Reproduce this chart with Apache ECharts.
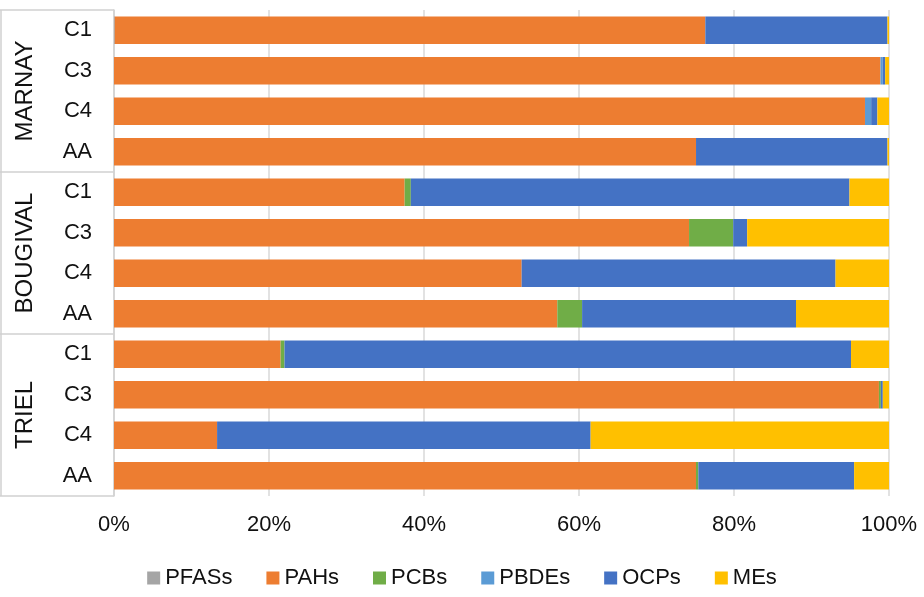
<!DOCTYPE html>
<html>
<head>
<meta charset="utf-8">
<script src="https://cdn.jsdelivr.net/npm/echarts@6/dist/echarts.min.js"></script>
<style>
  html, body { margin: 0; padding: 0; background: #fff; }
  #main { width: 924px; height: 597px; }
</style>
</head>
<body>
<div id="main"></div>
<script>
// categories, top to bottom
var sites = ['MARNAY', 'BOUGIVAL', 'TRIEL'];
var samples = ['C1', 'C3', 'C4', 'AA'];
var names = ['PFASs', 'PAHs', 'PCBs', 'PBDEs', 'OCPs', 'MEs'];
var colors = ['#A5A5A5', '#ED7D31', '#70AD47', '#5B9BD5', '#4472C4', '#FFC000'];

// percentages, order: MARNAY C1..AA, BOUGIVAL C1..AA, TRIEL C1..AA
var pfas = [0.1, 0, 0, 0, 0, 0, 0, 0, 0, 0, 0, 0];
var pahs = [76.2, 98.9, 96.9, 75.1, 37.5, 74.2, 52.6, 57.2, 21.5, 98.7, 13.3, 75.1];
var pcbs = [0, 0, 0, 0, 0.8, 5.7, 0, 3.2, 0.5, 0.25, 0, 0.3];
var pbdes = [0, 0.3, 0.8, 0, 0, 0, 0, 0, 0, 0, 0, 0];
var ocps = [23.5, 0.3, 0.8, 24.7, 56.6, 1.8, 40.5, 27.6, 73.1, 0.25, 48.2, 20.1];
var mes = [0.2, 0.5, 1.5, 0.2, 5.1, 18.3, 6.9, 12.0, 4.9, 0.8, 38.5, 4.5];

var values = [pfas, pahs, pcbs, pbdes, ocps, mes];

var cats = [];
sites.forEach(function (s) {
    samples.forEach(function (c) { cats.push(s + '|' + c); });
});

var FONT = '"Liberation Sans", Arial, sans-serif';
var gridLeft = 114, gridTop = 10, gridW = 775, gridH = 486;

var myChart = echarts.init(document.getElementById('main'));

var series = names.map(function (n, i) {
    return {
        name: n,
        type: 'bar',
        stack: 'total',
        barCategoryGap: '32%',
        itemStyle: { color: colors[i] },
        data: values[i]
    };
});

// group labels and separator lines on the left
var graphics = [];
var groupH = gridH / sites.length;
for (var g = 0; g <= sites.length; g++) {
    graphics.push({
        type: 'line',
        shape: { x1: 0, y1: gridTop + g * groupH, x2: gridLeft, y2: gridTop + g * groupH },
        style: { stroke: '#d0d0d0', lineWidth: 1.5 }
    });
}
graphics.push({
    type: 'line',
    shape: { x1: 1, y1: gridTop, x2: 1, y2: gridTop + gridH },
    style: { stroke: '#d0d0d0', lineWidth: 1.5 }
});
sites.forEach(function (s, i) {
    graphics.push({
        type: 'text',
        x: 25,
        y: gridTop + (i + 0.5) * groupH,
        rotation: Math.PI / 2,
        style: {
            text: s,
            font: '24px ' + FONT,
            fill: '#111',
            align: 'center',
            verticalAlign: 'middle'
        }
    });
});

var option = {
    animation: false,
    backgroundColor: '#fff',
    grid: { left: gridLeft, top: gridTop, width: gridW, height: gridH },
    legend: {
        data: names,
        bottom: 3,
        left: 'center',
        itemWidth: 13,
        itemHeight: 13,
        itemGap: 34,
        icon: 'rect',
        textStyle: { fontSize: 22, fontFamily: FONT, color: '#111' }
    },
    xAxis: {
        type: 'value',
        min: 0,
        max: 100,
        interval: 20,
        axisLine: { show: false },
        axisTick: { show: false },
        splitLine: { lineStyle: { color: '#d9d9d9', width: 1.5 } },
        axisLabel: {
            formatter: '{value}%',
            fontSize: 22,
            margin: 18,
            fontFamily: FONT,
            color: '#111'
        }
    },
    yAxis: {
        type: 'category',
        inverse: true,
        data: cats,
        axisLine: { show: true, lineStyle: { color: '#d0d0d0', width: 1.5 } },
        axisTick: { show: false },
        axisLabel: {
            formatter: function (v) { return v.split('|')[1]; },
            fontSize: 22,
            margin: 22,
            fontFamily: FONT,
            color: '#111'
        }
    },
    series: series,
    graphic: graphics
};

myChart.setOption(option);
</script>
</body>
</html>
